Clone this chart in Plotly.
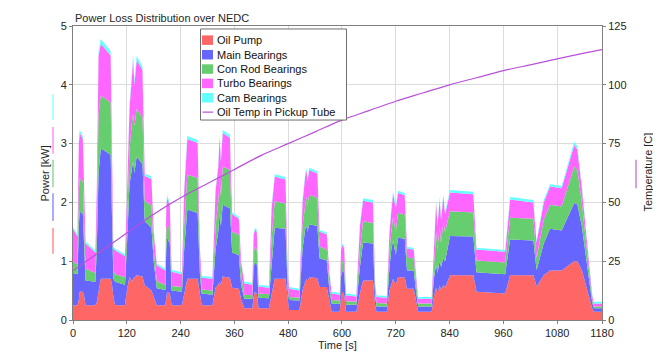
import plotly.graph_objects as go

# ---------------- data ----------------
# time [s] and cumulative stacked levels [kW] (top of each layer)
time_s = [0, 10, 13, 15, 22, 25, 28, 50, 53, 57, 62, 84, 87, 90, 94, 116, 120, 126, 132, 134,
          137, 142, 155, 160, 175, 180, 187, 206, 208, 210, 216, 220, 243, 248, 255, 278, 283, 287, 311, 318,
          324, 327, 330, 334, 350, 355, 370, 375, 382, 400, 403, 406, 410, 414, 437, 443, 450, 474, 479, 482,
          505, 512, 518, 521, 523, 527, 545, 550, 566, 572, 577, 595, 598, 601, 605, 609, 632, 640, 647, 669,
          674, 677, 700, 706, 710, 714, 720, 725, 740, 745, 760, 765, 770, 800, 805, 810, 813, 818, 821, 826,
          830, 841, 893, 900, 964, 975, 1027, 1034, 1050, 1064, 1090, 1118, 1125, 1135, 1158, 1162, 1180]

level_oil_pump = [.25, .25, .35, .48, .48, .40, .25, .25, .30, .50, .70, .70, .60, .40, .25, .25, .50, .73, .65, .70,
                  .72, .76, .74, .59, .50, .40, .25, .25, .40, .48, .45, .25, .25, .45, .70, .70, .40, .25, .25, .55,
                  .60, .65, .60, .74, .72, .55, .53, .35, .20, .20, .40, .48, .45, .20, .20, .45, .70, .70, .30, .17,
                  .17, .50, .65, .70, .65, .73, .71, .56, .56, .30, .14, .14, .40, .48, .42, .14, .14, .45, .67, .67,
                  .25, .14, .14, .50, .60, .70, .60, .73, .72, .53, .53, .30, .14, .14, .40, .55, .45, .59, .50, .60,
                  .55, .76, .76, .48, .45, .76, .76, .57, .76, .84, .84, 1.00, 1.00, .85, .20, .14, .14]

level_main_bearings = [.80, .78, 1.60, 1.85, 1.80, 1.20, .67, .65, 1.20, 2.50, 2.92, 2.81, 1.80, .70, .65, .60, 1.20, 2.30, 2.60, 2.70,
                       2.50, 2.78, 2.65, 1.68, 1.57, 1.00, .54, .51, 1.20, 1.40, 1.30, .50, .48, 1.20, 1.88, 1.82, .80, .45, .43, 1.20,
                       1.50, 1.80, 1.60, 1.96, 1.90, 1.15, 1.10, .60, .36, .36, .90, .98, .95, .38, .37, 1.00, 1.57, 1.55, .50, .34,
                       .33, 1.20, 1.55, 1.60, 1.50, 1.63, 1.60, 1.05, 1.01, .50, .28, .27, .75, .84, .80, .26, .26, .90, 1.32, 1.30,
                       .40, .23, .23, .90, 1.20, 1.35, 1.10, 1.40, 1.38, .84, .84, .50, .23, .23, .70, .95, .80, 1.01, .90, 1.05,
                       1.00, 1.43, 1.42, .81, .78, 1.37, 1.35, .85, 1.30, 1.55, 1.52, 1.99, 1.97, 1.60, .30, .20, .20]

level_con_rod_bearings = [1.00, .95, 2.20, 2.41, 2.35, 1.50, .87, .80, 1.60, 3.50, 3.82, 3.70, 2.30, .85, .78, .73, 1.50, 2.90, 3.40, 3.50,
                          3.30, 3.59, 3.45, 2.02, 1.95, 1.20, .66, .60, 1.50, 1.63, 1.55, .58, .56, 1.60, 2.47, 2.42, 1.00, .52, .50, 1.60,
                          2.00, 2.40, 2.10, 2.61, 2.55, 1.50, 1.45, .80, .43, .42, 1.15, 1.24, 1.20, .45, .44, 1.40, 2.02, 1.98, .60, .39,
                          .38, 1.60, 1.95, 2.10, 1.95, 2.13, 2.08, 1.25, 1.20, .60, .34, .33, .95, 1.01, .95, .32, .31, 1.20, 1.68, 1.65,
                          .50, .29, .28, 1.20, 1.50, 1.75, 1.50, 1.82, 1.80, 1.06, 1.05, .60, .28, .28, 1.00, 1.50, 1.20, 1.60, 1.30, 1.65,
                          1.50, 1.85, 1.83, 1.01, .98, 1.74, 1.72, 1.05, 1.70, 1.96, 1.93, 2.61, 2.55, 2.00, .35, .23, .23]

level_turbo_bearings = [1.55, 1.42, 3.00, 3.18, 3.08, 2.00, 1.30, 1.15, 2.20, 4.50, 4.70, 4.50, 3.00, 1.22, 1.18, 1.09, 2.00, 3.60, 4.20, 4.45,
                        4.00, 4.42, 4.25, 2.45, 2.40, 1.50, .93, .84, 1.90, 2.08, 1.95, .82, .78, 2.20, 3.08, 3.01, 1.20, .72, .70, 2.20,
                        2.60, 3.10, 2.70, 3.18, 3.10, 1.80, 1.72, 1.00, .62, .60, 1.45, 1.54, 1.50, .57, .55, 1.90, 2.44, 2.39, .80, .53,
                        .50, 2.00, 2.45, 2.55, 2.35, 2.55, 2.49, 1.50, 1.46, .80, .45, .43, 1.20, 1.27, 1.22, .42, .40, 1.60, 2.03, 2.00,
                        .60, .39, .38, 1.50, 1.85, 2.15, 1.90, 2.16, 2.12, 1.21, 1.20, .70, .36, .36, 1.30, 2.00, 1.60, 2.05, 1.70, 2.10,
                        1.80, 2.17, 2.14, 1.20, 1.16, 2.05, 2.00, 1.32, 2.00, 2.27, 2.24, 2.97, 2.90, 2.25, .42, .28, .28]

level_cam_bearings = [1.58, 1.45, 3.05, 3.23, 3.13, 2.04, 1.33, 1.18, 2.24, 4.57, 4.78, 4.57, 3.05, 1.25, 1.21, 1.12, 2.04, 3.65, 4.26, 4.52,
                      4.06, 4.49, 4.31, 2.49, 2.44, 1.53, .96, .87, 1.94, 2.12, 1.99, .85, .81, 2.24, 3.13, 3.06, 1.23, .75, .73, 2.24,
                      2.64, 3.15, 2.74, 3.23, 3.15, 1.83, 1.75, 1.03, .65, .63, 1.48, 1.57, 1.53, .60, .58, 1.94, 2.48, 2.43, .83, .56,
                      .53, 2.04, 2.49, 2.59, 2.39, 2.59, 2.53, 1.53, 1.49, .83, .48, .46, 1.23, 1.30, 1.25, .45, .43, 1.63, 2.07, 2.04,
                      .63, .42, .41, 1.53, 1.89, 2.19, 1.94, 2.20, 2.16, 1.24, 1.23, .73, .39, .39, 1.33, 2.04, 1.63, 2.09, 1.73, 2.14,
                      1.84, 2.21, 2.18, 1.23, 1.19, 2.09, 2.04, 1.35, 2.04, 2.31, 2.28, 3.03, 2.95, 2.29, .45, .31, .31]

temp_time = [0, 60, 120, 180, 240, 300, 360, 420, 480, 540, 600, 660, 720, 780, 840, 900, 960, 1020, 1080, 1140, 1180]
temp_c = [21, 29, 37, 45, 52, 58, 64, 70, 75, 80, 85, 89, 93, 96.5, 100, 103, 106, 108.5, 111, 113.5, 115]

series_names = ["Oil Pump", "Main Bearings", "Con Rod Bearings", "Turbo Bearings", "Cam Bearings"]
series_levels = [level_oil_pump, level_main_bearings, level_con_rod_bearings, level_turbo_bearings, level_cam_bearings]
series_colors = ["rgb(255,102,102)", "rgb(102,102,255)", "rgb(102,206,110)", "rgb(255,102,255)", "rgb(102,255,255)"]
temp_name = "Oil Temp in Pickup Tube"
temp_color = "rgb(185,80,215)"

x_ticks = [0, 120, 240, 360, 480, 600, 720, 840, 960, 1080, 1180]

# ---------------- figure ----------------
PAGE_OFF = 8                      # default page body margin
W, H = 661 - PAGE_OFF, 353 - PAGE_OFF
L, R, T, B = 73, 602, 23, 320     # plot area in page pixels
FONT = "Liberation Sans, Arial, sans-serif"
TXT = "#262626"

fig = go.Figure()
for i, (name, lev, col) in enumerate(zip(series_names, series_levels, series_colors)):
    fig.add_trace(go.Scatter(
        x=time_s, y=lev, name=name, mode="lines",
        line=dict(width=0, color=col),
        fill="tozeroy" if i == 0 else "tonexty",
        fillcolor=col, showlegend=False, hoverinfo="skip"))

fig.add_trace(go.Scatter(
    x=temp_time, y=temp_c, name=temp_name, mode="lines", yaxis="y2",
    line=dict(color=temp_color, width=1.2, shape="spline"), showlegend=False))


def px_x(p):
    return (p - L) / (R - L)


def px_y(p):
    return (B - p) / (B - T)


axis_common = dict(showline=True, linecolor="#808080", linewidth=1, ticks="outside", ticklen=3,
                   tickcolor="#808080", zeroline=False, tickfont=dict(size=11, color=TXT, family=FONT))

fig.update_layout(
    width=W, height=H,
    margin=dict(l=L - PAGE_OFF, r=661 - R, t=T - PAGE_OFF, b=353 - B),
    paper_bgcolor="white", plot_bgcolor="white",
    font=dict(family=FONT, size=11, color=TXT),
    xaxis=dict(range=[0, 1180], tickvals=x_ticks, showgrid=True, gridcolor="#dcdcdc",
               mirror=True, **axis_common),
    yaxis=dict(range=[0, 5], tickvals=[0, 1, 2, 3, 4, 5], showgrid=True, gridcolor="#dcdcdc",
               mirror=False, **axis_common),
    yaxis2=dict(range=[0, 125], tickvals=[0, 25, 50, 75, 100, 125], overlaying="y", side="right",
                showgrid=False, **axis_common),
)

ann = []
ann.append(dict(text="Power Loss Distribution over NEDC", xref="paper", yref="paper",
                x=px_x(73), y=px_y(15), xanchor="left", yanchor="middle", showarrow=False,
                font=dict(size=11, color=TXT)))
ann.append(dict(text="Time [s]", xref="paper", yref="paper", x=px_x(337), y=px_y(345),
                xanchor="center", yanchor="middle", showarrow=False, font=dict(size=11, color=TXT)))
ann.append(dict(text="Power [kW]", xref="paper", yref="paper", x=px_x(45), y=px_y(172),
                xanchor="center", yanchor="middle", textangle=-90, showarrow=False,
                font=dict(size=11, color=TXT)))
ann.append(dict(text="Temperature [C]", xref="paper", yref="paper", x=px_x(648), y=px_y(171),
                xanchor="center", yanchor="middle", textangle=-90, showarrow=False,
                font=dict(size=11, color=TXT)))

shapes = []
# colour keys beside axis titles
left_keys = [(92, 118, series_colors[4]), (125, 152, series_colors[3]), (158, 186, series_colors[2]),
             (192, 220, series_colors[1]), (227, 253, series_colors[0])]
for y0, y1, c in left_keys:
    shapes.append(dict(type="line", xref="paper", yref="paper", x0=px_x(53), x1=px_x(53),
                       y0=px_y(y0), y1=px_y(y1), line=dict(color=c, width=1.1), layer="above"))
shapes.append(dict(type="line", xref="paper", yref="paper", x0=px_x(636), x1=px_x(636),
                   y0=px_y(158), y1=px_y(187), line=dict(color=temp_color, width=1.1), layer="above"))

# legend box
shapes.append(dict(type="rect", xref="paper", yref="paper", x0=px_x(200.5), x1=px_x(346.5),
                   y0=px_y(26), y1=px_y(118), fillcolor="white",
                   line=dict(color="#6e6e6e", width=1), layer="above"))
row_y = [37.3, 52, 66.5, 81, 95.5, 110]
for k, (name, col) in enumerate(zip(series_names, series_colors)):
    yc = row_y[k]
    shapes.append(dict(type="rect", xref="paper", yref="paper", x0=px_x(202), x1=px_x(213),
                       y0=px_y(yc - 4.8), y1=px_y(yc + 4.8), fillcolor=col, line=dict(width=0),
                       layer="above"))
    ann.append(dict(text=name, xref="paper", yref="paper", x=px_x(214.5), y=px_y(yc),
                    xanchor="left", yanchor="middle", showarrow=False, font=dict(size=11, color="#111")))
yc = row_y[5]
shapes.append(dict(type="line", xref="paper", yref="paper", x0=px_x(202.5), x1=px_x(213),
                   y0=px_y(yc), y1=px_y(yc), line=dict(color=temp_color, width=1.2), layer="above"))
ann.append(dict(text=temp_name, xref="paper", yref="paper", x=px_x(214.5), y=px_y(yc),
                xanchor="left", yanchor="middle", showarrow=False, font=dict(size=11, color="#111")))

fig.update_layout(annotations=ann, shapes=shapes)
fig.write_html("out.html")
